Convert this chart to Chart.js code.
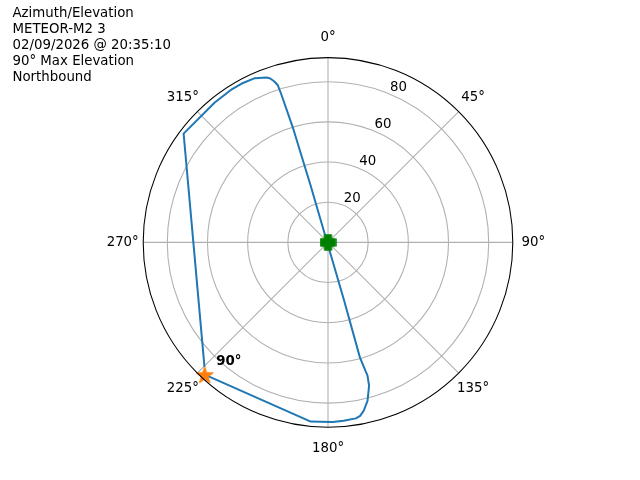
<!DOCTYPE html>
<html><head><meta charset="utf-8">
<script src="https://cdn.jsdelivr.net/npm/chart.js@4/dist/chart.umd.min.js"></script>
<style>html,body{margin:0;padding:0;background:#fff}#wrap{position:relative;width:640px;height:480px}</style>
</head><body><div id="wrap"><canvas id="c" width="640" height="480"></canvas></div>
<script>
// ---- data ----
const headerLines = ["Azimuth/Elevation", "METEOR-M2 3", "02/09/2026 @ 20:35:10", "90° Max Elevation", "Northbound"];
const trackAz = [223, 185.5, 182.5, 178.5, 175, 171, 169.5, 168, 166, 164, 163.5, 164.5, 164.5, 343, 343, 342.5, 342.3, 341.5, 340.5, 339.5, 336, 331.5, 327.5, 321, 307, 224.7];
const trackEl = [0, 0.4, 0.6, 0.6, 0.9, 1.3, 2.2, 4.4, 8.7, 15.8, 20.8, 30.6, 60, 60, 31.2, 12.8, 7.9, 5.4, 3.3, 2.4, 0.5, 0, 0, 0.4, 0, 2.6];
const startAz = [223];
const startEl = [0];
const zenithAz = [0];
const zenithEl = [90];
const startLabel = "90°";
const radialTicks = [20, 40, 60, 80];
const angleTicks = [0, 45, 90, 135, 180, 225, 270, 315];
const angleTickLabels = ["0°", "45°", "90°", "135°", "180°", "225°", "270°", "315°"];
const rMax = 92;

// polar (azimuth, elevation) -> cartesian data values (r = 90 - elevation)
function toXY(az, el) {
  return az.map((a, i) => {
    const r = 90 - el[i];
    const t = a * Math.PI / 180;
    return { x: r * Math.sin(t), y: r * Math.cos(t) };
  });
}

// marker images
function plusImg(size, color) {
  const c = document.createElement('canvas'); c.width = size; c.height = size;
  const g = c.getContext('2d');
  const h = size / 2, w = size * 0.2;
  g.fillStyle = color; g.strokeStyle = color; g.lineWidth = 1.5; g.lineJoin = 'round';
  g.beginPath();
  g.moveTo(h - w, 1); g.lineTo(h + w, 1); g.lineTo(h + w, h - w); g.lineTo(size - 1, h - w);
  g.lineTo(size - 1, h + w); g.lineTo(h + w, h + w); g.lineTo(h + w, size - 1); g.lineTo(h - w, size - 1);
  g.lineTo(h - w, h + w); g.lineTo(1, h + w); g.lineTo(1, h - w); g.lineTo(h - w, h - w); g.closePath();
  g.fill(); g.stroke();
  return c;
}
function starImg(size, color) {
  const c = document.createElement('canvas'); c.width = size; c.height = size;
  const g = c.getContext('2d');
  const h = size / 2, ro = size / 2 - 0.5, ri = ro * 0.38;
  g.fillStyle = color; g.strokeStyle = color; g.lineWidth = 1; g.lineJoin = 'miter';
  g.beginPath();
  for (let i = 0; i < 10; i++) {
    const r = i % 2 === 0 ? ro : ri;
    const a = -Math.PI / 2 + i * Math.PI / 5;
    const px = h + r * Math.cos(a), py = h + 1 + r * Math.sin(a);
    if (i === 0) g.moveTo(px, py); else g.lineTo(px, py);
  }
  g.closePath(); g.fill(); g.stroke();
  return c;
}

const FONT = '"DejaVu Sans", "Liberation Sans", sans-serif';

const polarPlugin = {
  id: 'polarPlugin',
  beforeDatasetsDraw(chart) {
    const xs = chart.scales.x, ys = chart.scales.y, ctx = chart.ctx;
    const cx = xs.getPixelForValue(0), cy = ys.getPixelForValue(0);
    const ppu = xs.getPixelForValue(1) - cx;
    ctx.save();
    ctx.strokeStyle = '#b0b0b0'; ctx.lineWidth = 1.07;
    radialTicks.forEach(r => { ctx.beginPath(); ctx.arc(cx, cy, r * ppu, 0, 2 * Math.PI); ctx.stroke(); });
    angleTicks.forEach(a => {
      const t = a * Math.PI / 180;
      ctx.beginPath(); ctx.moveTo(cx, cy);
      ctx.lineTo(cx + rMax * ppu * Math.sin(t), cy - rMax * ppu * Math.cos(t)); ctx.stroke();
    });
    ctx.restore();
  },
  afterDatasetsDraw(chart) {
    const xs = chart.scales.x, ys = chart.scales.y, ctx = chart.ctx;
    const cx = xs.getPixelForValue(0), cy = ys.getPixelForValue(0);
    const ppu = xs.getPixelForValue(1) - cx;
    ctx.save();
    // outer spine
    ctx.strokeStyle = '#000'; ctx.lineWidth = 1.07;
    ctx.beginPath(); ctx.arc(cx, cy, rMax * ppu, 0, 2 * Math.PI); ctx.stroke();
    ctx.fillStyle = '#000';
    ctx.font = '13.33px ' + FONT;
    // angle labels
    ctx.textAlign = 'center'; ctx.textBaseline = 'middle';
    angleTicks.forEach((a, i) => {
      const t = a * Math.PI / 180, R = rMax * ppu + 20.5;
      ctx.fillText(angleTickLabels[i], cx + R * Math.sin(t), cy - R * Math.cos(t) + 0.5);
    });
    // radial labels
    ctx.textAlign = 'left'; ctx.textBaseline = 'alphabetic';
    const tl = 22.5 * Math.PI / 180;
    radialTicks.forEach(r => {
      ctx.fillText(String(r), cx + r * ppu * Math.sin(tl) + 0.5, cy - r * ppu * Math.cos(tl) - 3);
    });
    // start annotation
    const sp = toXY(startAz, startEl)[0];
    ctx.font = 'bold 13.33px ' + FONT;
    ctx.fillText(startLabel, xs.getPixelForValue(sp.x) + 11.5, ys.getPixelForValue(sp.y) - 9.5);
    // header text
    ctx.font = '13.33px ' + FONT;
    headerLines.forEach((s, i) => ctx.fillText(s, 12.5, 16.5 + 16.1 * i));
    ctx.restore();
  }
};

new Chart(document.getElementById('c'), {
  type: 'scatter',
  data: {
    datasets: [
      { data: toXY(zenithAz, zenithEl), pointStyle: plusImg(17, '#008000'), pointRadius: 8, order: 1 },
      { data: toXY(startAz, startEl), pointStyle: starImg(19, '#ff7f0e'), pointRadius: 9, order: 2 },
      { data: toXY(trackAz, trackEl), showLine: true, borderColor: '#1f77b4', borderWidth: 2, pointRadius: 0, tension: 0, fill: false, order: 3, borderJoinStyle: 'round', borderCapStyle: 'butt' }
    ]
  },
  options: {
    responsive: false,
    animation: false,
    devicePixelRatio: 1,
    layout: { padding: { left: 143.2, right: 127.2, top: 57.6, bottom: 52.8 } },
    scales: {
      x: { type: 'linear', min: -rMax, max: rMax, display: false },
      y: { type: 'linear', min: -rMax, max: rMax, display: false }
    },
    plugins: { legend: { display: false }, tooltip: { enabled: false }, title: { display: false } }
  },
  plugins: [polarPlugin]
});
</script>
</body></html>
